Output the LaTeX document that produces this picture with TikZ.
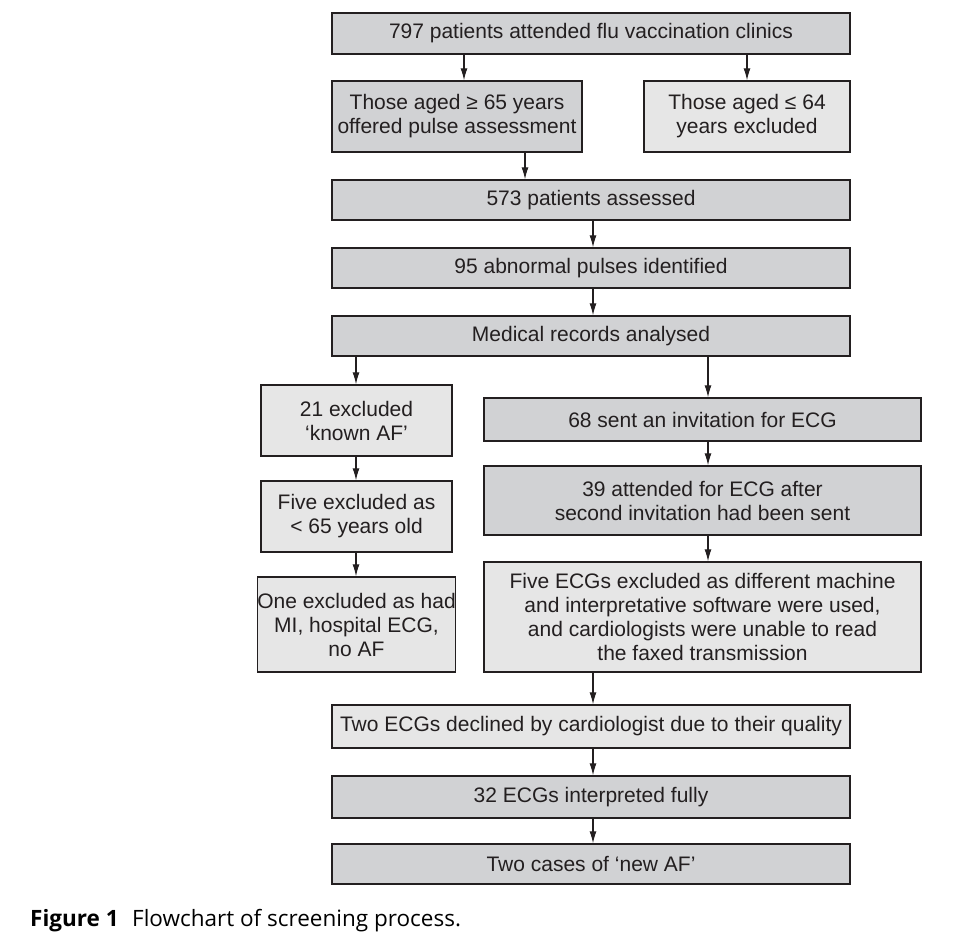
\documentclass[tikz,border=0pt]{standalone}
\usepackage{fontspec}
\setmainfont{Liberation Sans}
\newfontfamily\capfont{Open Sans}
\usetikzlibrary{arrows.meta}
\definecolor{boxdark}{HTML}{D1D2D4}
\definecolor{boxlight}{HTML}{E6E6E6}
\definecolor{ink}{HTML}{231F20}
\begin{document}
\begin{tikzpicture}[x=1pt,y=-1pt,
  box/.style={draw=ink, line width=1.4pt, text=ink, align=center, inner sep=0pt,
    font=\fontsize{21}{24}\selectfont},
  dbox/.style={box, fill=boxdark},
  lbox/.style={box, fill=boxlight},
  arr/.style={draw=ink, line width=1.1pt, -{Latex[length=12pt,width=7pt]}}]
\useasboundingbox (0,0) rectangle (980,945);
% main column
\node[dbox, minimum width=518pt, minimum height=41pt] (A) at (591,33.5) {797 patients attended flu vaccination clinics};
\node[dbox, minimum width=250pt, minimum height=71pt] (B) at (457,116.5) {Those aged \char"2265{} 65 years\\offered pulse assessment};
\node[lbox, minimum width=206pt, minimum height=71pt] (C) at (747,116.5) {Those aged \char"2264{} 64\\years excluded};
\node[dbox, minimum width=518pt, minimum height=40pt] (P) at (591,200) {573 patients assessed};
\node[dbox, minimum width=518pt, minimum height=40pt] (Q) at (591,268) {95 abnormal pulses identified};
\node[dbox, minimum width=518pt, minimum height=40pt] (M) at (591,336) {Medical records analysed};
% left column
\node[lbox, minimum width=191pt, minimum height=71pt] (L1) at (356.5,420.5) {21 excluded\\`known AF'};
\node[lbox, minimum width=191pt, minimum height=71pt] (L2) at (356.5,516.5) {Five excluded as\\< 65 years old};
\node[lbox, minimum width=191pt, minimum height=95pt] (L3) at (356.5,624.5) {One excluded as had\\MI, hospital ECG,\\no AF};
% right column
\node[dbox, minimum width=437pt, minimum height=43pt] (R1) at (702.5,419.5) {68 sent an invitation for ECG};
\node[dbox, minimum width=437pt, minimum height=69pt] (R2) at (702.5,500.5) {39 attended for ECG after\\second invitation had been sent};
\node[lbox, minimum width=437pt, minimum height=110pt] (R3) at (702.5,617) {Five ECGs excluded as different machine\\and interpretative software were used,\\and cardiologists were unable to read\\the faxed transmission};
% bottom
\node[lbox, minimum width=518pt, minimum height=43pt] (D) at (591,726.5) {Two ECGs declined by cardiologist due to their quality};
\node[dbox, minimum width=518pt, minimum height=42pt] (E) at (591,797) {32 ECGs interpreted fully};
\node[dbox, minimum width=518pt, minimum height=40pt] (F) at (591,864) {Two cases of `new AF'};
% arrow x positions
\coordinate (xab) at (464,0);
\coordinate (xac) at (747,0);
\coordinate (xbp) at (525,0);
\coordinate (xm) at (593,0);
\coordinate (xl) at (356,0);
\coordinate (xr) at (708,0);
\draw[arr] (A.south -| xab) -- (B.north -| xab);
\draw[arr] (A.south -| xac) -- (C.north -| xac);
\draw[arr] (B.south -| xbp) -- (P.north -| xbp);
\draw[arr] (P.south -| xm) -- (Q.north -| xm);
\draw[arr] (Q.south -| xm) -- (M.north -| xm);
\draw[arr] (M.south -| xl) -- (L1.north -| xl);
\draw[arr] (L1.south -| xl) -- (L2.north -| xl);
\draw[arr] (L2.south -| xl) -- (L3.north -| xl);
\draw[arr] (M.south -| xr) -- (R1.north -| xr);
\draw[arr] (R1.south -| xr) -- (R2.north -| xr);
\draw[arr] (R2.south -| xr) -- (R3.north -| xr);
\draw[arr] (R3.south -| xm) -- (D.north -| xm);
\draw[arr] (D.south -| xm) -- (E.north -| xm);
\draw[arr] (E.south -| xm) -- (F.north -| xm);
% caption
\node[anchor=base west, inner sep=0pt, text=black, font=\capfont\fontsize{22.5}{26}\selectfont] (cap) at (30,926) {\textbf{Figure 1}\hspace{0.6em}Flowchart of screening process.};
\end{tikzpicture}
\end{document}
